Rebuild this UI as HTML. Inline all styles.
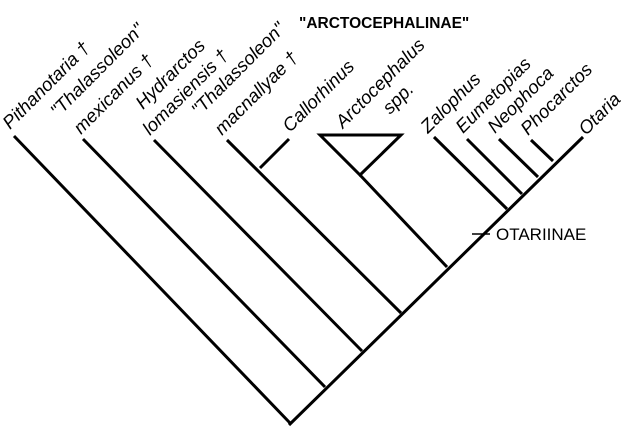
<!DOCTYPE html>
<html><head><style>
html,body{margin:0;padding:0;background:#fff;}
svg{display:block;}
text{font-family:"Liberation Sans",sans-serif;font-size:18.5px;fill:#000;}
.i{font-style:italic;}
</style></head><body>
<svg width="640" height="433" viewBox="0 0 640 433">
<g stroke="#000" stroke-width="3" fill="none" stroke-linecap="butt">
<line x1="289" y1="425" x2="583" y2="137"/>
<line x1="14" y1="136" x2="290" y2="423"/>
<line x1="83" y1="139" x2="325" y2="387"/>
<line x1="154" y1="140" x2="362" y2="351"/>
<line x1="227" y1="140" x2="401" y2="313"/>
<line x1="289" y1="139" x2="260" y2="168"/>
<polygon points="320,135 401,135 360,175"/>
<line x1="360" y1="175" x2="447" y2="267"/>
<line x1="434" y1="137" x2="507" y2="209"/>
<line x1="467" y1="139" x2="522" y2="194"/>
<line x1="499" y1="139" x2="538" y2="177"/>
<line x1="531" y1="140" x2="553" y2="161"/>
<line x1="472" y1="234" x2="490" y2="234" stroke-width="1.5"/>
</g>
<text x="496" y="240" style="font-size:17px">OTARIINAE</text>
<text x="299" y="28" style="font-size:15.5px;font-weight:bold">"ARCTOCEPHALINAE"</text>
<text class="i" transform="translate(10,130) rotate(-45)">Pithanotaria †</text>
<text class="i" transform="translate(58,118) rotate(-45)">"Thalassoleon"</text>
<text class="i" transform="translate(81,135) rotate(-45)">mexicanus †</text>
<text class="i" transform="translate(143,110) rotate(-45)">Hydrarctos</text>
<text class="i" transform="translate(150,136) rotate(-45)">lomasiensis †</text>
<text class="i" transform="translate(199,117) rotate(-45)">"Thalassoleon"</text>
<text class="i" transform="translate(222,136) rotate(-45)">macnallyae †</text>
<text class="i" transform="translate(290,133) rotate(-45)">Callorhinus</text>
<text class="i" transform="translate(343,129) rotate(-45)">Arctocephalus</text>
<text class="i" transform="translate(390,115) rotate(-45)">spp.</text>
<text class="i" transform="translate(428,134) rotate(-45)">Zalophus</text>
<text class="i" transform="translate(463,134) rotate(-45)">Eumetopias</text>
<text class="i" transform="translate(495,134) rotate(-45)">Neophoca</text>
<text class="i" transform="translate(528,136) rotate(-45)">Phocarctos</text>
<text class="i" transform="translate(586,136) rotate(-45)">Otaria</text>
</svg>
</body></html>
